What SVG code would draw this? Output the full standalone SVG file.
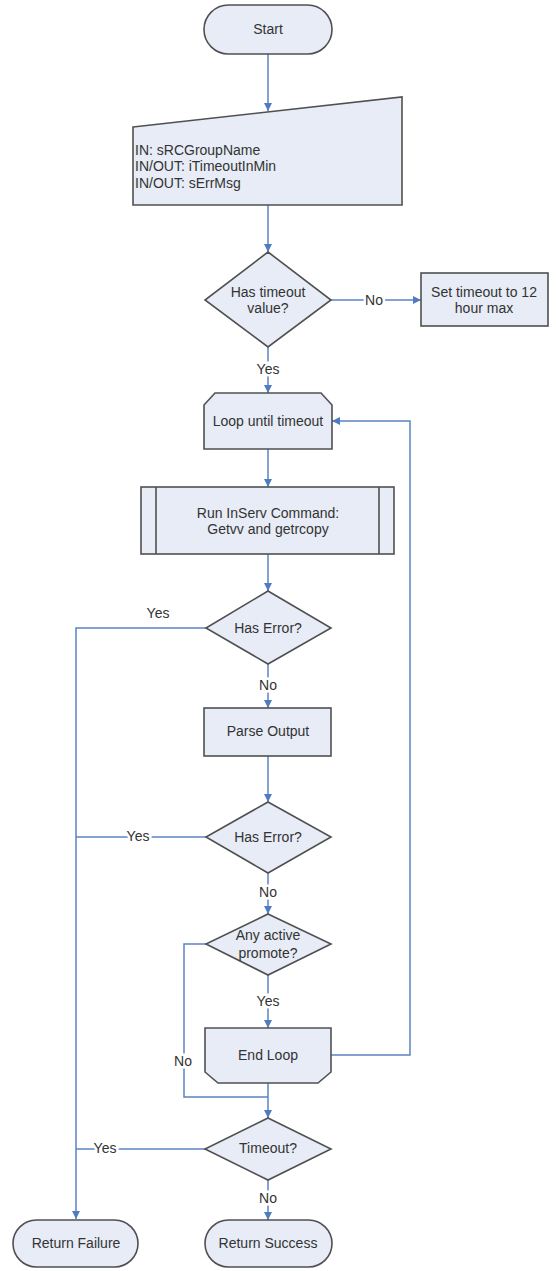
<svg xmlns="http://www.w3.org/2000/svg" width="556" height="1271" viewBox="0 0 556 1271">
<style>
.n{fill:#e7ecf6;stroke:#505050;stroke-width:1.6}
.t{font-family:"Liberation Sans",Arial,sans-serif;font-size:14px;fill:#333;text-anchor:middle;dominant-baseline:central}
.tl{text-anchor:start}
.c{fill:none;stroke:#5b84c4;stroke-width:1.5}
.lb{font-family:"Liberation Sans",Arial,sans-serif;font-size:14px;fill:#333;text-anchor:middle;dominant-baseline:central;stroke:#fff;stroke-width:5;paint-order:stroke}
</style>
<defs>
<marker id="a" markerWidth="8" markerHeight="8" refX="8" refY="4" orient="auto" markerUnits="userSpaceOnUse">
<path d="M0,0 L8,4 L0,8 Z" fill="#4f7cc0"/>
</marker>
</defs>
<rect width="556" height="1271" fill="#fff"/>
<g id="connectors">
<path class="c" d="M268,54 V111" marker-end="url(#a)"/>
<path class="c" d="M268,205 V252" marker-end="url(#a)"/>
<path class="c" d="M331,300 H421" marker-end="url(#a)"/>
<path class="c" d="M268,347 V393" marker-end="url(#a)"/>
<path class="c" d="M268,449 V487" marker-end="url(#a)"/>
<path class="c" d="M268,554 V591" marker-end="url(#a)"/>
<path class="c" d="M268,664 V708" marker-end="url(#a)"/>
<path class="c" d="M206,628 H76 V1219" marker-end="url(#a)"/>
<path class="c" d="M268,756 V802" marker-end="url(#a)"/>
<path class="c" d="M206,837 H76"/>
<path class="c" d="M268,873 V914" marker-end="url(#a)"/>
<path class="c" d="M268,975 V1028" marker-end="url(#a)"/>
<path class="c" d="M206,944 H184 V1097 H268"/>
<path class="c" d="M331,1055 H410 V421 H332" marker-end="url(#a)"/>
<path class="c" d="M268,1083 V1118" marker-end="url(#a)"/>
<path class="c" d="M205,1149 H76"/>
<path class="c" d="M268,1180 V1220" marker-end="url(#a)"/>
<text class="lb" x="374" y="300">No</text>
<text class="lb" x="268" y="369">Yes</text>
<text class="lb" x="268" y="685">No</text>
<text class="lb" x="158" y="613">Yes</text>
<text class="lb" x="138" y="836">Yes</text>
<text class="lb" x="268" y="892">No</text>
<text class="lb" x="268" y="1001">Yes</text>
<text class="lb" x="183" y="1061">No</text>
<text class="lb" x="105" y="1148">Yes</text>
<text class="lb" x="268" y="1198">No</text>
</g>
<g id="start">
<rect class="n" x="204" y="5" width="128" height="49" rx="24.5"/>
<text class="t" x="268" y="29">Start</text>
</g>
<g id="input">
<path class="n" d="M133,127 L402,97 L402,205 L133,205 Z"/>
<text class="t tl" x="135" y="150">IN: sRCGroupName</text>
<text class="t tl" x="135" y="166">IN/OUT: iTimeoutInMin</text>
<text class="t tl" x="135" y="183">IN/OUT: sErrMsg</text>
</g>
<g id="hasTimeout">
<path class="n" d="M268,252 L331,300 L268,347 L205,300 Z"/>
<text class="t" x="268" y="292">Has timeout</text>
<text class="t" x="268" y="308">value?</text>
</g>
<g id="setTimeout">
<rect class="n" x="421" y="273" width="127" height="53"/>
<text class="t" x="484" y="292">Set timeout to 12</text>
<text class="t" x="484" y="308">hour max</text>
</g>
<g id="loopStart">
<path class="n" d="M215,393 L321,393 L332,405 L332,449 L204,449 L204,405 Z"/>
<text class="t" x="268" y="421">Loop until timeout</text>
</g>
<g id="runCommand">
<rect class="n" x="141" y="487" width="253" height="67"/>
<path class="n" d="M156,487 V554 M379,487 V554"/>
<text class="t" x="268" y="513">Run InServ Command:</text>
<text class="t" x="268" y="529">Getvv and getrcopy</text>
</g>
<g id="hasError1">
<path class="n" d="M268,591 L331,628 L268,664 L206,628 Z"/>
<text class="t" x="268" y="628">Has Error?</text>
</g>
<g id="parseOutput">
<rect class="n" x="204" y="708" width="127" height="48"/>
<text class="t" x="268" y="731">Parse Output</text>
</g>
<g id="hasError2">
<path class="n" d="M268,802 L331,837 L268,873 L206,837 Z"/>
<text class="t" x="268" y="837">Has Error?</text>
</g>
<g id="anyActive">
<path class="n" d="M268,914 L331,944 L268,975 L206,944 Z"/>
<text class="t" x="268" y="935">Any active</text>
<text class="t" x="268" y="953">promote?</text>
</g>
<g id="endLoop">
<path class="n" d="M205,1028 L331,1028 L331,1072 L318,1083 L218,1083 L205,1072 Z"/>
<text class="t" x="268" y="1055">End Loop</text>
</g>
<g id="timeout">
<path class="n" d="M268,1118 L331,1149 L268,1180 L205,1149 Z"/>
<text class="t" x="268" y="1148">Timeout?</text>
</g>
<g id="returnFailure">
<rect class="n" x="13" y="1220" width="125" height="47" rx="23.5"/>
<text class="t" x="76" y="1243">Return Failure</text>
</g>
<g id="returnSuccess">
<rect class="n" x="205" y="1220" width="127" height="47" rx="23.5"/>
<text class="t" x="268" y="1243">Return Success</text>
</g>
</svg>
